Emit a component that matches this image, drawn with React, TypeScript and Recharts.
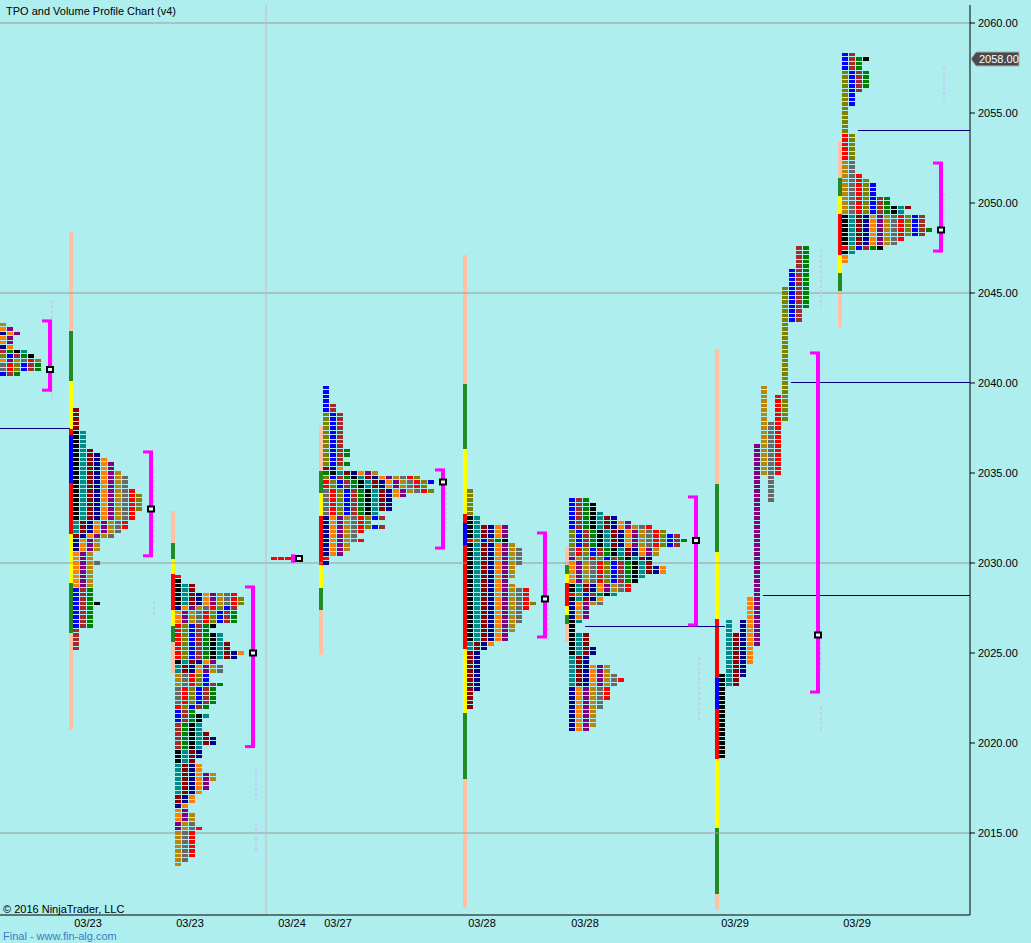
import React from "react";
import {
  ComposedChart,
  XAxis,
  YAxis,
  Scatter,
  ReferenceLine,
  ReferenceArea,
} from "recharts";

const FONT = "'Liberation Sans', Arial, sans-serif";
const BG = "#afeeee";

// period colours, in the order the periods follow each other
const periodCycle = "KTDNOPGYRLBWE";
const tpoColors: Record<string, string> = {
  K: "#000000",
  T: "#008b8b",
  D: "#8b0000",
  N: "#00008b",
  O: "#ff8000",
  P: "#800080",
  G: "#b8860b",
  Y: "#696969",
  R: "#ff0000",
  L: "#808000",
  B: "#0000ff",
  W: "#a52a2a",
  E: "#008000",
};
const barColors: Record<string, string> = {
  s: "#ffc0a6",
  g: "#228b22",
  y: "#ffff00",
  r: "#ff0000",
  b: "#0000ff",
};

const TICK = 0.25;
const COL = 7;

// collapsed TPO profiles: tpo count per price row (from the top row down)
// and the period colour of the first tpo in each row
const s0Counts = [1, 2, 3, 2, 2, 2, 4, 5, 6, 6, 6, 3];
const s0First = "GONOONWLOYYB";

const s1Counts = [
  1, 1, 1, 1, 1, 2, 2, 2, 2, 3, 4, 5, 6, 6, 7, 8, 8, 8, 9, 10, 10, 10, 10, 9, 9,
  8, 8, 7, 6, 4, 4, 4, 3, 3, 4, 3, 3, 3, 3, 3, 3, 3, 3, 4, 3, 3, 3, 3, 3, 1, 1,
  1, 1, 1,
];
const s1First =
  "DDDDD" + "KKKKKKKKKKKKKKKKKKKK" + "TTT" + "D" + "NNN" + "OOOOOOOO" +
  "BBBBBBBBB" + "WWWWW";

const s2Counts = [
  1, 1, 3, 3, 9, 10, 10, 9, 9, 9, 9, 6, 5, 7, 7, 8, 8, 10, 9, 6, 7, 7, 5, 5, 7,
  6, 6, 6, 6, 5, 3, 5, 4, 4, 4, 5, 6, 6, 4, 4, 4, 3, 4, 4, 6, 6, 5, 5, 4, 3, 3,
  2, 2, 3, 3, 3, 4, 3, 3, 3, 3, 3, 3, 2, 1,
];
const s2First =
  "R" + "KKKKKK" + "N" + "OOO" + "RRRRRRRR" + "K" + "TT" + "GGG" + "YYYY" +
  "R" + "BBB" + "WWWWWW" + "KKK" + "TTTTTTT" + "DD" + "N" + "OOO" + "PP" +
  "GGGGGGGG";

const s4Counts = [
  1, 1, 1, 1, 2, 2, 3, 3, 3, 3, 3, 3, 3, 3, 4, 4, 3, 4, 3, 8, 14, 16, 15, 16,
  12, 10, 10, 10, 8, 9, 7, 9, 6, 5, 6, 4, 4, 3, 1, 1,
];
const s4First =
  "BBBBBB" + "LLLLLLLLLLLL" + "D" + "E" + "L" + "RR" + "YYYYYY" +
  "NNNNNNNNN" + "R" + "N";

const s5Counts = [
  1, 1, 1, 1, 1, 1, 2, 2, 6, 6, 6, 6, 7, 8, 8, 8, 8, 7, 7, 7, 6, 7, 9, 9, 9,
  10, 9, 8, 8, 8, 7, 7, 6, 6, 4, 3, 2, 2, 2, 2, 2, 2, 2, 2, 2, 1, 1, 1, 1,
];
const s5First =
  "LLLLLL" + "KKKKK" + "R" + "KKKKKKKKKKKKKKKKKKKKKK" + "TT" +
  "DDDDDDDDDDDDD";

const s6Counts = [
  3, 4, 4, 5, 7, 9, 12, 14, 16, 17, 16, 13, 13, 12, 12, 14, 14, 11, 10, 9, 9,
  7, 5, 5, 3, 3, 3, 2, 1, 1, 3, 3, 3, 4, 4, 3, 3, 6, 6, 7, 8, 7, 6, 6, 6, 5, 5,
  4, 4, 4, 4, 3,
];
const s6First =
  "BBBBBBB" + "LLLL" + "YY" + "P" + "OOOOO" + "KK" + "R" + "K" + "NNNN" +
  "KKKKKKKK" + "TTTTTTT" + "NNNNNNNNNN";

const s8Counts = [
  2, 4, 3, 3, 4, 4, 4, 4, 3, 2, 2, 2, 1, 1, 1, 1, 1, 1, 2, 2, 2, 2, 2, 2, 2, 2,
  2, 3, 4, 5, 5, 5, 7, 7, 10, 9, 12, 12, 12, 13, 12, 9, 8, 6, 2, 1, 1,
];
const s8First =
  "BBBB" + "LLLLLLLLLLLLLL" + "RRRRRR" + "GGGGGGGGGGGG" + "KKKKKKK" + "R" +
  "K" + "OO";

// split profiles: one column per period, high / low of each period
const s3High = [2030.25, 2030.25, 2030.25];
const s3Low = [2030.25, 2030.25, 2030.25];
const s7High = [
  2023.75, 2026.75, 2026.0, 2026.75, 2028.0, 2036.5, 2039.75, 2037.75, 2039.25,
  2045.25, 2046.25, 2047.5, 2047.5,
];
const s7Low = [
  2019.25, 2023.25, 2023.25, 2023.75, 2024.5, 2025.5, 2035.0, 2033.5, 2035.0,
  2038.0, 2043.5, 2043.5, 2044.25,
];

// session range bars (segment boundaries, top to bottom)
const s1Bar = [2048.4, 2042.9, 2040.1, 2037.45, 2037.1, 2034.45, 2031.6, 2028.9, 2026.1, 2020.7];
const s2Bar = [2032.9, 2031.1, 2030.2, 2029.4, 2027.4, 2026.5, 2025.6, 2023.9];
const s4Bar = [2037.6, 2035.1, 2033.9, 2032.6, 2029.9, 2028.6, 2027.4, 2024.9];
const s5Bar = [2047.1, 2039.95, 2036.35, 2032.7, 2032.2, 2031.0, 2025.2, 2021.65, 2018.0, 2010.85];
const s6Bar = [2030.9, 2029.9, 2029.4, 2028.9, 2027.6, 2027.1, 2026.6, 2025.6];
const s7Bar = [2041.9, 2034.4, 2030.6, 2026.9, 2023.6, 2021.9, 2019.1, 2015.3, 2011.6, 2010.7];
const s8Bar = [2053.4, 2051.4, 2050.4, 2049.4, 2047.1, 2046.1, 2045.1, 2043.1];

// value area brackets and POC
const vaX = [50, 151, 253, 293, 443, 545, 696, 818, 941];
const vaHigh = [2043.45, 2036.17, 2028.67, 2030.4, 2035.17, 2031.67, 2033.67, 2041.67, 2052.22];
const vaLow = [2039.6, 2030.4, 2019.8, 2030.1, 2030.83, 2025.89, 2026.56, 2022.83, 2047.33];
const vaSerif = [8, 8, 8, 2, 8, 8, 8, 8, 8];
const pocX = [50, 151, 253, 299, 443, 545, 696, 818, 941];
const pocPrice = [2040.75, 2033.0, 2025.0, 2030.25, 2034.5, 2028.0, 2031.25, 2026.0, 2048.5];

// naked POC lines
const npocPrice = [2037.47, 2026.45, 2028.2, 2040.0, 2054.0];
const npocFrom = [0, 585, 763, 791, 858];
const npocTo = [70, 725, 970, 970, 970];

// faint volume profile marks
const volX = [52, 154, 154, 256, 256, 446, 548, 699, 821, 821, 821, 944, 944];
const volTop = [2044.6, 2035.17, 2027.83, 2018.61, 2015.56, 2034.22, 2028.89, 2024.78, 2047.39, 2026.17, 2022.0, 2057.56, 2050.56];
const volBottom = [2039.2, 2031.0, 2027.11, 2016.83, 2013.89, 2031.83, 2025.61, 2021.11, 2044.22, 2024.06, 2020.72, 2055.72, 2047.94];

const gridPrices = [2015, 2030, 2045, 2060];
const priceTicks = [2015, 2020, 2025, 2030, 2035, 2040, 2045, 2050, 2055, 2060];
const dateTicks = [88, 190, 292, 338, 482, 585, 735, 857];
const dateLabels = ["03/23", "03/23", "03/24", "03/27", "03/28", "03/28", "03/29", "03/29"];
const lastPrice = 2058.0;
const separatorX = 266;

const collapsedProfiles = [
  { x: 0, top: 2043.25, counts: s0Counts, first: s0First },
  { x: 73, top: 2038.5, counts: s1Counts, first: s1First },
  { x: 175, top: 2029.25, counts: s2Counts, first: s2First },
  { x: 323, top: 2039.75, counts: s4Counts, first: s4First },
  { x: 467, top: 2034.0, counts: s5Counts, first: s5First },
  { x: 569, top: 2033.5, counts: s6Counts, first: s6First },
  { x: 842, top: 2058.25, counts: s8Counts, first: s8First },
];
const splitProfiles = [
  { x: 271, high: s3High, low: s3Low, colors: "RRR" },
  { x: 719, high: s7High, low: s7Low, colors: periodCycle },
];
const rangeBars = [
  { x: 69, bounds: s1Bar, colors: "sgyrbrygs" },
  { x: 171, bounds: s2Bar, colors: "sgyrygs" },
  { x: 319, bounds: s4Bar, colors: "sgyrygs" },
  { x: 463, bounds: s5Bar, colors: "sgyrbrygs" },
  { x: 565, bounds: s6Bar, colors: "sgyrygs" },
  { x: 715, bounds: s7Bar, colors: "sgyrbrygs" },
  { x: 838, bounds: s8Bar, colors: "sgyrygs" },
];

const tpoPoints: { x: number; y: number; fill: string }[] = [];
collapsedProfiles.forEach((p) => {
  p.counts.forEach((n, i) => {
    const k0 = periodCycle.indexOf(p.first[i]);
    for (let j = 0; j < n; j++) {
      tpoPoints.push({
        x: p.x + j * COL + 3,
        y: p.top - i * TICK,
        fill: tpoColors[periodCycle[(k0 + j) % periodCycle.length]],
      });
    }
  });
});
splitProfiles.forEach((p) => {
  p.high.forEach((hi, c) => {
    for (let v = hi; v >= p.low[c] - 1e-6; v -= TICK) {
      tpoPoints.push({ x: p.x + c * COL + 3, y: v, fill: tpoColors[p.colors[c]] });
    }
  });
});

const pocPoints = pocX.map((x, i) => ({ x, y: pocPrice[i] }));

const TpoBox = (props: any) => (
  <rect
    x={props.cx - 3}
    y={props.cy - 1.75}
    width={6}
    height={3.5}
    fill={props.payload.fill}
    shapeRendering="crispEdges"
  />
);

const PocBox = (props: any) => (
  <rect
    x={props.cx - 3}
    y={props.cy - 2.5}
    width={6}
    height={5}
    fill="#e8fbfb"
    stroke="#000"
    strokeWidth={2}
  />
);

const PriceTag = (props: any) => {
  const vb = props.viewBox || {};
  const x0 = (vb.x || 0) + (vb.width || 0) + 1;
  const y0 = vb.y || 0;
  return (
    <g>
      <path
        d={`M${x0},${y0} L${x0 + 5},${y0 - 7} L${x0 + 48},${y0 - 7} L${x0 + 48},${y0 + 7} L${x0 + 5},${y0 + 7} Z`}
        fill="#4a4a4a"
        stroke="#b0b0b0"
        strokeWidth={1}
      />
      <text x={x0 + 8} y={y0 + 4} fill="#fff" fontSize={11} fontFamily={FONT}>
        {lastPrice.toFixed(2)}
      </text>
    </g>
  );
};

export default function App() {
  return (
    <div
      style={{
        position: "absolute",
        left: 0,
        top: 0,
        width: 1031,
        height: 943,
        background: BG,
        fontFamily: FONT,
        overflow: "hidden",
      }}
    >
      <ComposedChart width={1031} height={943} margin={{ top: 5, right: 0, bottom: 0, left: 0 }}>
        <XAxis
          type="number"
          dataKey="x"
          domain={[0, 970]}
          allowDataOverflow
          ticks={dateTicks}
          interval={0}
          tickFormatter={(v: number) => dateLabels[dateTicks.indexOf(v)] ?? ""}
          tick={{ fontSize: 11, fill: "#000", fontFamily: FONT }}
          tickLine={false}
          tickSize={2}
          tickMargin={2}
          axisLine={{ stroke: "#000" }}
          height={28}
        />
        <YAxis
          type="number"
          dataKey="y"
          orientation="right"
          domain={[2010.4444, 2061]}
          allowDataOverflow
          ticks={priceTicks}
          interval={0}
          tickFormatter={(v: number) => v.toFixed(2)}
          tick={{ fontSize: 11, fill: "#000", fontFamily: FONT }}
          tickLine={{ stroke: "#000" }}
          tickSize={5}
          tickMargin={3}
          axisLine={{ stroke: "#000" }}
          width={61}
        />

        {gridPrices.map((p) => (
          <ReferenceLine key={`g${p}`} y={p} stroke="#9a9a9a" strokeWidth={1} />
        ))}
        <ReferenceLine x={separatorX} stroke="#d2b6b6" strokeWidth={1} />

        {rangeBars.flatMap((b, bi) =>
          b.colors.split("").map((c, i) => (
            <ReferenceArea
              key={`b${bi}-${i}`}
              x1={b.x}
              x2={b.x + 4}
              y1={b.bounds[i + 1]}
              y2={b.bounds[i]}
              fill={barColors[c]}
              fillOpacity={1}
              stroke="none"
              shapeRendering="crispEdges"
            />
          ))
        )}

        {volX.map((x, i) => (
          <ReferenceLine
            key={`v${i}`}
            segment={[{ x, y: volTop[i] }, { x, y: volBottom[i] }]}
            stroke="#c3cdf3"
            strokeWidth={2}
            strokeDasharray="3 2"
          />
        ))}

        <Scatter data={tpoPoints} shape={TpoBox} isAnimationActive={false} />

        {npocPrice.map((p, i) => (
          <ReferenceLine
            key={`n${i}`}
            segment={[{ x: npocFrom[i], y: p }, { x: npocTo[i], y: p }]}
            stroke="#000080"
            strokeWidth={1}
            shapeRendering="crispEdges"
          />
        ))}

        {vaX.map((x, i) => (
          <ReferenceLine
            key={`va${i}`}
            segment={[{ x, y: vaHigh[i] }, { x, y: vaLow[i] }]}
            stroke="#ff00ff"
            strokeWidth={4}
          />
        ))}
        {vaX.map((x, i) => (
          <ReferenceLine
            key={`vt${i}`}
            segment={[{ x: x - vaSerif[i], y: vaHigh[i] }, { x: x + 2, y: vaHigh[i] }]}
            stroke="#ff00ff"
            strokeWidth={3}
          />
        ))}
        {vaX.map((x, i) => (
          <ReferenceLine
            key={`vb${i}`}
            segment={[{ x: x - vaSerif[i], y: vaLow[i] }, { x: x + 2, y: vaLow[i] }]}
            stroke="#ff00ff"
            strokeWidth={3}
          />
        ))}

        <Scatter data={pocPoints} shape={PocBox} isAnimationActive={false} />

        <ReferenceLine y={lastPrice} stroke="none" label={<PriceTag />} />
      </ComposedChart>

      <div style={{ position: "absolute", left: 6, top: 5, fontSize: 11, lineHeight: "13px", color: "#000" }}>
        TPO and Volume Profile Chart (v4)
      </div>
      <div style={{ position: "absolute", left: 3, top: 903, fontSize: 11, lineHeight: "12px", color: "#000" }}>
        © 2016 NinjaTrader, LLC
      </div>
      <div style={{ position: "absolute", left: 3, top: 931, fontSize: 11, lineHeight: "10px", color: "#3a7bc8" }}>
        Final - www.fin-alg.com
      </div>
    </div>
  );
}
